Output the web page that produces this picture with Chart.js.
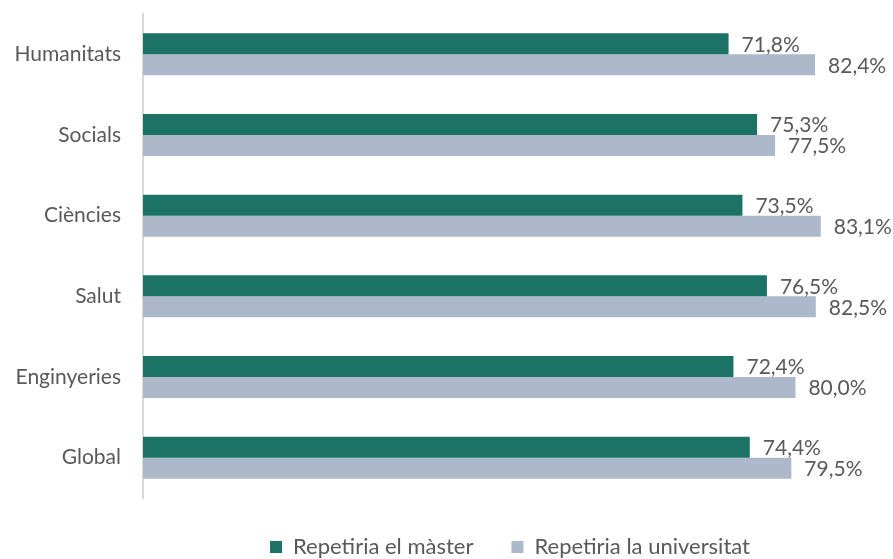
<!DOCTYPE html>
<html>
<head>
<meta charset="utf-8">
<script src="https://cdn.jsdelivr.net/npm/chart.js@4.4.1/dist/chart.umd.min.js"></script>
<style>
  html, body { margin: 0; padding: 0; background: #fff; }
  #wrap { width: 893px; height: 559px; }
</style>
</head>
<body>
<div id="wrap"><canvas id="chart" width="893" height="559"></canvas></div>
<script>
const categories = ['Humanitats', 'Socials', 'Ciències', 'Salut', 'Enginyeries', 'Global'];
const masterValues = [71.8, 75.3, 73.5, 76.5, 72.4, 74.4];
const uniValues = [82.4, 77.5, 83.1, 82.5, 80.0, 79.5];
const seriesNames = ['Repetiria el màster', 'Repetiria la universitat'];

const textColor = '#595959';
const fontFamily = 'Lato, "Open Sans", sans-serif';

// etiquetes de valor al final de cada barra
const valueLabels = {
    id: 'valueLabels',
    afterDatasetsDraw(chart) {
        const ctx = chart.ctx;
        ctx.save();
        ctx.font = '21px ' + fontFamily;
        ctx.fillStyle = textColor;
        ctx.textAlign = 'left';
        ctx.textBaseline = 'middle';
        chart.data.datasets.forEach((ds, i) => {
            const meta = chart.getDatasetMeta(i);
            meta.data.forEach((bar, j) => {
                const txt = ds.data[j].toFixed(1).replace('.', ',') + '%';
                ctx.fillText(txt, bar.x + 13, bar.y + 1);
            });
        });
        ctx.restore();
    }
};

new Chart(document.getElementById('chart'), {
    type: 'bar',
    data: {
        labels: categories,
        datasets: [
            {
                label: seriesNames[0],
                data: masterValues,
                backgroundColor: '#1b7265',
                categoryPercentage: 0.52,
                barPercentage: 1.0
            },
            {
                label: seriesNames[1],
                data: uniValues,
                backgroundColor: '#adb9cb',
                categoryPercentage: 0.52,
                barPercentage: 1.0
            }
        ]
    },
    options: {
        indexAxis: 'y',
        responsive: false,
        animation: false,
        layout: { padding: { top: 14, right: 16, left: 0, bottom: 0 } },
        scales: {
            x: {
                display: false,
                min: 0,
                max: 90
            },
            y: {
                grid: { display: false, drawTicks: false },
                border: { display: true, color: '#d9d9d9', width: 2 },
                ticks: {
                    color: textColor,
                    font: { family: fontFamily, size: 21 },
                    padding: 22
                },
                afterFit(scale) {
                    scale.width = 143;
                    scale.paddingTop = 0;
                    scale.paddingBottom = 0;
                }
            }
        },
        plugins: {
            legend: {
                position: 'bottom',
                fullSize: false,
                maxHeight: 61,
                labels: {
                    color: textColor,
                    font: { family: fontFamily, size: 22 },
                    boxWidth: 12,
                    boxHeight: 12,
                    padding: 38
                }
            },
            tooltip: { enabled: false }
        }
    },
    plugins: [valueLabels]
});
</script>
</body>
</html>
